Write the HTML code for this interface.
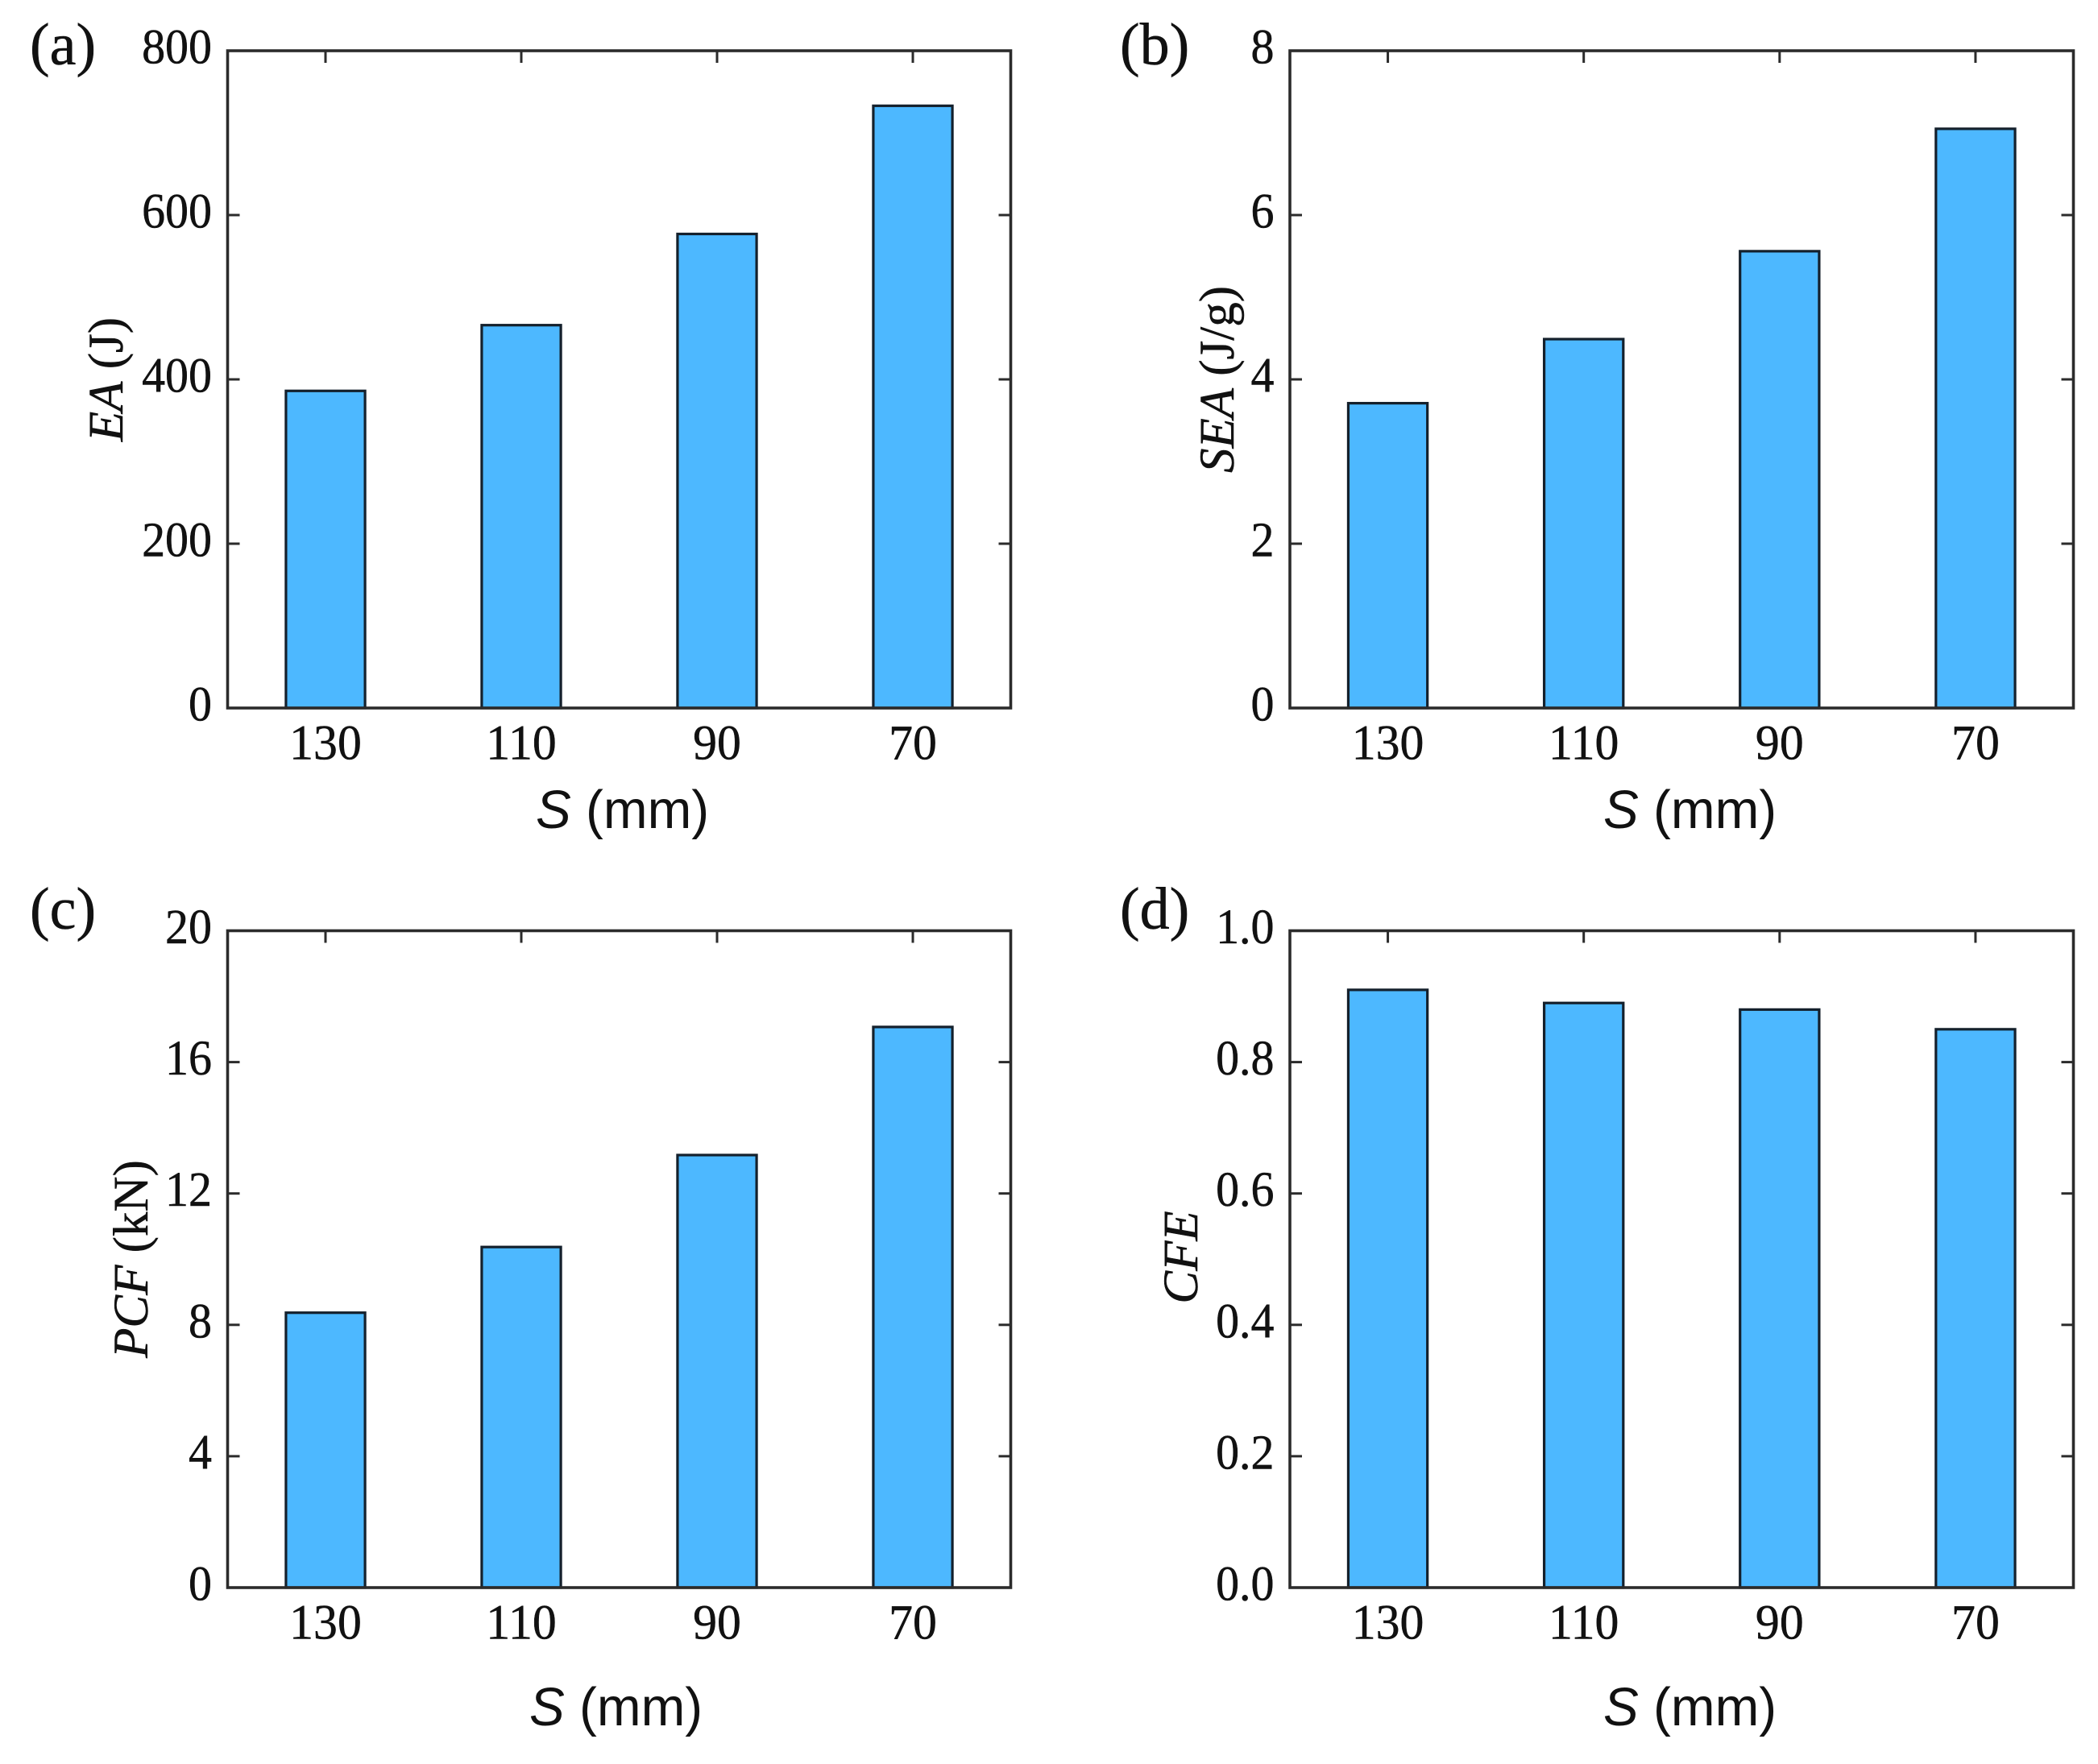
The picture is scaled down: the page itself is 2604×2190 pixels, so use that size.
<!DOCTYPE html>
<html lang="en">
<head>
<meta charset="utf-8">
<title>Energy absorption metrics versus spacing S</title>
<style>
html,body{margin:0;padding:0;background:#fff;}
svg{display:block;}
.serif{font-family:"Liberation Serif","Times New Roman",serif;fill:#111;stroke:#111;stroke-width:0.5px;}
.sans{font-family:"Liberation Sans",Arial,sans-serif;fill:#111;}
.tick-text{font-size:61px;}
.panel-text{font-size:74px;}
.ylab{font-size:61px;}
.xlab{font-size:67px;}
</style>
</head>
<body>
<svg id="chart" xmlns="http://www.w3.org/2000/svg" width="2604" height="2190" viewBox="0 0 2604 2190">
  <rect x="0" y="0" width="2604" height="2190" fill="#ffffff"/>
  <g id="panel-a"></g>
  <g id="panel-b"></g>
  <g id="panel-c"></g>
  <g id="panel-d"></g>

  <text class="serif panel-text" x="37" y="80">(a)</text>
  <text class="serif panel-text" x="1390" y="80">(b)</text>
  <text class="serif panel-text" x="37" y="1153">(c)</text>
  <text class="serif panel-text" x="1390" y="1153">(d)</text>

  <text class="serif ylab" text-anchor="middle" transform="translate(152,471) rotate(-90)"><tspan font-style="italic">EA</tspan> (J)</text>
  <text class="serif ylab" text-anchor="middle" transform="translate(1531,471) rotate(-90)"><tspan font-style="italic">SEA</tspan> (J/g)</text>
  <text class="serif ylab" text-anchor="middle" transform="translate(183,1563) rotate(-90)"><tspan font-style="italic">PCF</tspan> (kN)</text>
  <text class="serif ylab" text-anchor="middle" transform="translate(1486,1561) rotate(-90)"><tspan font-style="italic">CFE</tspan></text>

  <text class="sans xlab" transform="translate(665,1028) scale(0.98,1)"><tspan font-style="italic">S</tspan> (mm)</text>
  <text class="sans xlab" transform="translate(1990,1028) scale(0.98,1)"><tspan font-style="italic">S</tspan> (mm)</text>
  <text class="sans xlab" transform="translate(657,2142) scale(0.98,1)"><tspan font-style="italic">S</tspan> (mm)</text>
  <text class="sans xlab" transform="translate(1990,2142) scale(0.98,1)"><tspan font-style="italic">S</tspan> (mm)</text>
</svg>
<script>
const categories = ['130', '110', '90', '70'];

const eaValues = [386, 466, 577, 733];
const seaValues = [3.71, 4.49, 5.56, 7.05];
const pcfValues = [8.37, 10.37, 13.17, 17.07];
const cfeValues = [0.91, 0.89, 0.88, 0.85];

const eaTicks = [0, 200, 400, 600, 800];
const seaTicks = [0, 2, 4, 6, 8];
const pcfTicks = [0, 4, 8, 12, 16, 20];
const cfeTicks = [0.0, 0.2, 0.4, 0.6, 0.8, 1.0];

const NS = 'http://www.w3.org/2000/svg';
const BAR_FILL = '#4db8ff';
const BAR_STROKE = '#14202c';
const AXIS_STROKE = '#2b2b2b';

function makeEl(tag, attrs) {
  const el = document.createElementNS(NS, tag);
  for (const k in attrs) el.setAttribute(k, attrs[k]);
  return el;
}

function drawPanel(id, box, values, ticks, decimals) {
  const g = document.getElementById(id);
  const width = box.right - box.left;
  const height = box.bottom - box.top;
  const yMin = ticks[0];
  const yMax = ticks[ticks.length - 1];
  const step = width / categories.length;
  const barWidth = step * 0.404;
  const xScale = i => box.left + step * (i + 0.5);
  const yScale = v => box.bottom - (v - yMin) / (yMax - yMin) * height;

  values.forEach((v, i) => {
    const bar = makeEl('rect', {
      x: xScale(i) - barWidth / 2,
      y: yScale(v),
      width: barWidth,
      height: box.bottom - yScale(v),
      fill: BAR_FILL,
      stroke: BAR_STROKE,
      'stroke-width': 3.2
    });
    
    
    g.appendChild(bar);
  });

  const frame = makeEl('rect', {
    x: box.left,
    y: box.top,
    width: width,
    height: height,
    fill: 'none',
    stroke: AXIS_STROKE,
    'stroke-width': 3.6
  });
  
  
  g.appendChild(frame);

  categories.forEach((c, i) => {
    const x = xScale(i);
    const tick = makeEl('line', {
      x1: x, x2: x, y1: box.top, y2: box.top + 15,
      stroke: AXIS_STROKE, 'stroke-width': 3
    });
    
    
    g.appendChild(tick);

    const label = makeEl('text', {
      class: 'serif tick-text',
      'text-anchor': 'middle',
      transform: 'translate(' + x + ',' + (box.bottom + 63.5) + ') scale(0.98,1)'
    });
    label.textContent = c;
    
    
    g.appendChild(label);
  });

  ticks.forEach(t => {
    const y = yScale(t);
    if (t !== yMin && t !== yMax) {
      const tickLeft = makeEl('line', {
        x1: box.left, x2: box.left + 15, y1: y, y2: y,
        stroke: AXIS_STROKE, 'stroke-width': 3
      });
      
      
      g.appendChild(tickLeft);

      const tickRight = makeEl('line', {
        x1: box.right - 15, x2: box.right, y1: y, y2: y,
        stroke: AXIS_STROKE, 'stroke-width': 3
      });
      
      
      g.appendChild(tickRight);
    }
    const label = makeEl('text', {
      class: 'serif tick-text',
      'text-anchor': 'end',
      transform: 'translate(' + (box.left - 19.5) + ',' + (y + 15.5) + ') scale(0.95,1)'
    });
    label.textContent = t.toFixed(decimals);
    
    
    g.appendChild(label);
  });
}

drawPanel('panel-a', {left: 282.5, right: 1254.5, top: 63, bottom: 879}, eaValues, eaTicks, 0);
drawPanel('panel-b', {left: 1601, right: 2573.5, top: 63, bottom: 879}, seaValues, seaTicks, 0);
drawPanel('panel-c', {left: 282.5, right: 1254.5, top: 1155.5, bottom: 1971}, pcfValues, pcfTicks, 0);
drawPanel('panel-d', {left: 1601, right: 2573.5, top: 1155.5, bottom: 1971}, cfeValues, cfeTicks, 1);
</script>
</body>
</html>
